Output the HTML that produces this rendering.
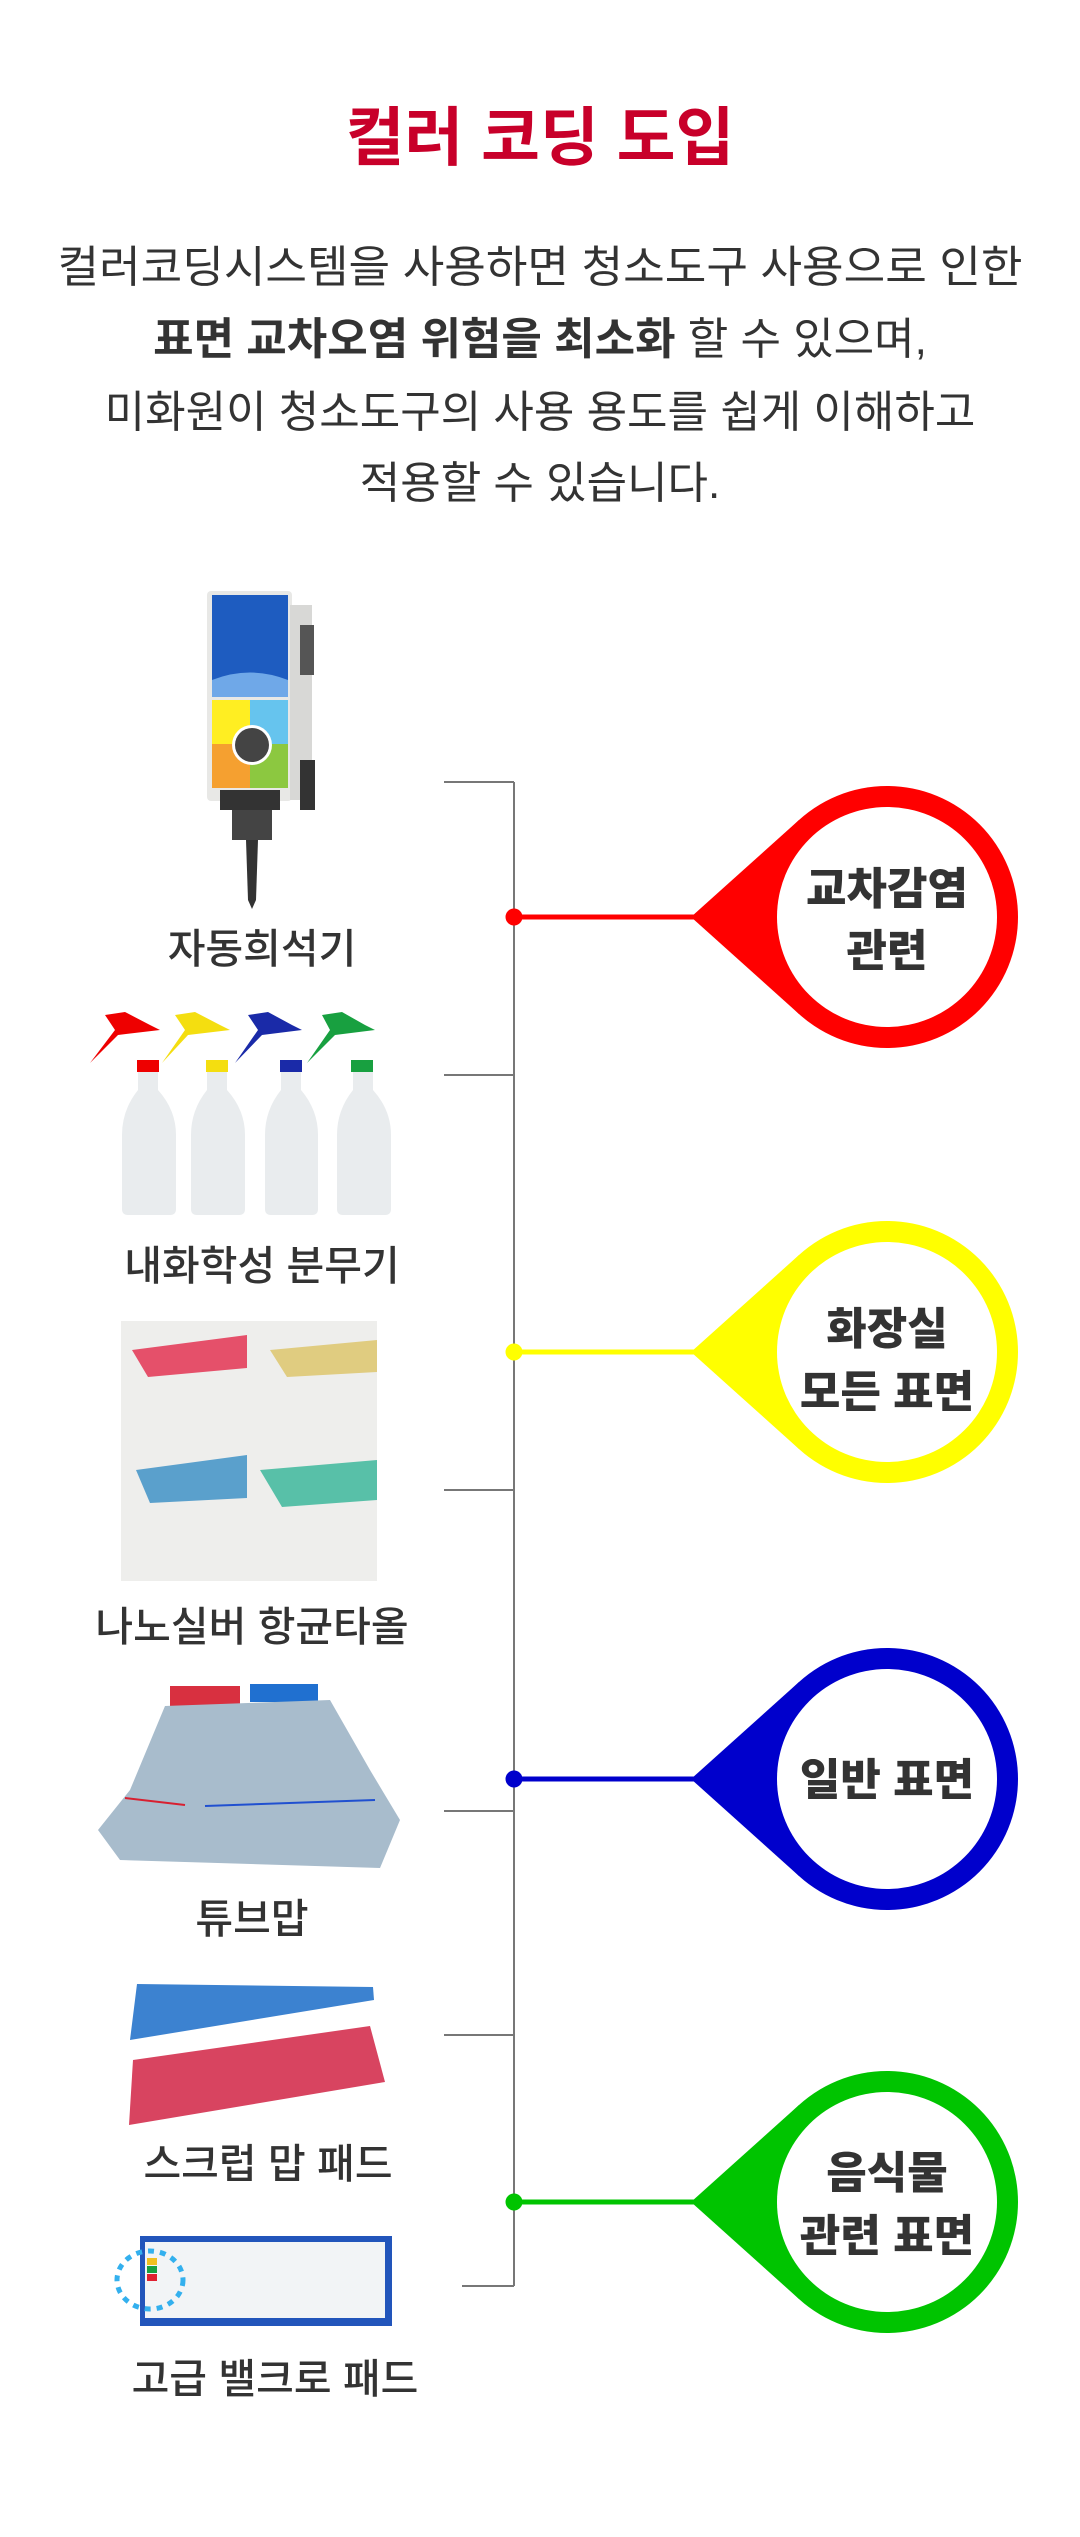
<!DOCTYPE html>
<html><head><meta charset="utf-8"><style>
html,body{margin:0;padding:0;background:#fff;}
svg{display:block;}
text{font-family:"Liberation Sans","Noto Sans CJK KR",sans-serif;}
</style></head><body>
<svg width="1080" height="2537" viewBox="0 0 1080 2537" xmlns="http://www.w3.org/2000/svg">
<rect width="1080" height="2537" fill="#fff"/>
<text x="540" y="160" text-anchor="middle" font-size="64" font-weight="bold" fill="#c8002a">컬러 코딩 도입</text>
<g font-size="44" fill="#333" text-anchor="middle">
<text x="540" y="282" textLength="965" lengthAdjust="spacingAndGlyphs">컬러코딩시스템을 사용하면 청소도구 사용으로 인한</text>
<text x="540" y="354"><tspan font-weight="bold">표면 교차오염 위험을 최소화</tspan> 할 수 있으며,</text>
<text x="540" y="427">미화원이 청소도구의 사용 용도를 쉽게 이해하고</text>
<text x="540" y="498">적용할 수 있습니다.</text>
</g>
<g stroke="#777" stroke-width="2" fill="none">
<line x1="514" y1="782" x2="514" y2="2286"/>
<line x1="444" y1="782" x2="514" y2="782"/>
<line x1="444" y1="1075" x2="514" y2="1075"/>
<line x1="444" y1="1490" x2="514" y2="1490"/>
<line x1="444" y1="1811" x2="514" y2="1811"/>
<line x1="444" y1="2035" x2="514" y2="2035"/>
<line x1="462" y1="2286" x2="514" y2="2286"/>
</g>
<g font-size="44" font-weight="900" fill="#333" text-anchor="middle">
<g>
<line x1="514" y1="917" x2="700" y2="917" stroke="#ff0000" stroke-width="5"/>
<circle cx="514" cy="917" r="8.5" fill="#ff0000"/>
<polygon points="691,917 799,820 799,1014" fill="#ff0000"/>
<circle cx="887" cy="917" r="131" fill="#ff0000"/>
<circle cx="887" cy="917" r="110" fill="#fff"/>
<text x="887" y="904">교차감염</text>
<text x="887" y="966">관련</text>
</g>
<g>
<line x1="514" y1="1352" x2="700" y2="1352" stroke="#ffff00" stroke-width="5"/>
<circle cx="514" cy="1352" r="8.5" fill="#ffff00"/>
<polygon points="691,1352 799,1255 799,1449" fill="#ffff00"/>
<circle cx="887" cy="1352" r="131" fill="#ffff00"/>
<circle cx="887" cy="1352" r="110" fill="#fff"/>
<text x="887" y="1344">화장실</text>
<text x="887" y="1407">모든 표면</text>
</g>
<g>
<line x1="514" y1="1779" x2="700" y2="1779" stroke="#0000cc" stroke-width="5"/>
<circle cx="514" cy="1779" r="8.5" fill="#0000cc"/>
<polygon points="691,1779 799,1682 799,1876" fill="#0000cc"/>
<circle cx="887" cy="1779" r="131" fill="#0000cc"/>
<circle cx="887" cy="1779" r="110" fill="#fff"/>
<text x="887" y="1795">일반 표면</text>
</g>
<g>
<line x1="514" y1="2202" x2="700" y2="2202" stroke="#00c400" stroke-width="5"/>
<circle cx="514" cy="2202" r="8.5" fill="#00c400"/>
<polygon points="691,2202 799,2105 799,2299" fill="#00c400"/>
<circle cx="887" cy="2202" r="131" fill="#00c400"/>
<circle cx="887" cy="2202" r="110" fill="#fff"/>
<text x="887" y="2188">음식물</text>
<text x="887" y="2251">관련 표면</text>
</g>
</g>
<g font-size="41" fill="#333" text-anchor="middle" font-weight="500">
<text x="262" y="963">자동희석기</text>
<text x="262" y="1280">내화학성 분무기</text>
<text x="252" y="1641">나노실버 항균타올</text>
<text x="252" y="1933">튜브맙</text>
<text x="268" y="2178">스크럽 맙 패드</text>
<text x="275" y="2393">고급 밸크로 패드</text>
</g>
<g>
<rect x="207" y="591" width="85" height="210" rx="4" fill="#e8e8e6"/>
<rect x="290" y="605" width="22" height="195" fill="#d8d8d6"/>
<rect x="300" y="625" width="14" height="50" fill="#555"/>
<rect x="212" y="595" width="76" height="102" fill="#1e5cc0"/>
<path d="M212 680 Q250 665 288 680 L288 697 L212 697Z" fill="#6fa8e8"/>
<rect x="212" y="700" width="38" height="44" fill="#ffee22"/>
<rect x="250" y="700" width="38" height="44" fill="#66c4ee"/>
<rect x="212" y="744" width="38" height="44" fill="#f5a030"/>
<rect x="250" y="744" width="38" height="44" fill="#8cc840"/>
<circle cx="252" cy="745" r="20" fill="#fff"/>
<circle cx="252" cy="745" r="17" fill="#444"/>
<rect x="300" y="760" width="15" height="50" fill="#333"/>
<rect x="220" y="790" width="60" height="20" fill="#333"/>
<rect x="232" y="810" width="40" height="30" fill="#444"/>
<path d="M246 840 L258 840 L256 900 L252 909 L248 900Z" fill="#333"/>
</g>
<g>
<g fill="#e9ecee">
<path d="M138 1072 h20 v18 q18 20 18 45 v74 q0 6 -6 6 h-42 q-6 0 -6 -6 v-74 q0 -25 16 -45z"/>
<path d="M207 1072 h20 v18 q18 20 18 45 v74 q0 6 -6 6 h-42 q-6 0 -6 -6 v-74 q0 -25 16 -45z"/>
<path d="M281 1072 h20 v18 q17 20 17 45 v74 q0 6 -6 6 h-41 q-6 0 -6 -6 v-74 q0 -25 16 -45z"/>
<path d="M353 1072 h20 v18 q18 20 18 45 v74 q0 6 -6 6 h-42 q-6 0 -6 -6 v-74 q0 -25 16 -45z"/>
</g>
<rect x="137" y="1060" width="22" height="12" fill="#e00"/>
<rect x="206" y="1060" width="22" height="12" fill="#f4de10"/>
<rect x="280" y="1060" width="22" height="12" fill="#1a2aa8"/>
<rect x="351" y="1060" width="22" height="12" fill="#18a040"/>
<path d="M90 1063 L115 1030 L105 1015 L125 1012 L150 1025 L160 1030 L118 1035Z" fill="#e00"/>
<path d="M162 1063 L185 1030 L175 1015 L195 1012 L220 1025 L230 1030 L188 1035Z" fill="#f4de10"/>
<path d="M235 1063 L258 1030 L248 1015 L268 1012 L292 1025 L302 1030 L262 1035Z" fill="#1a2aa8"/>
<path d="M307 1063 L330 1030 L322 1015 L342 1012 L365 1025 L375 1030 L335 1035Z" fill="#18a040"/>
</g>
<g>
<rect x="121" y="1321" width="256" height="260" fill="#eeeeec"/>
<polygon points="132,1350 247,1335 247,1368 148,1377" fill="#e5506a"/>
<polygon points="270,1350 377,1340 377,1372 287,1377" fill="#e0cc80"/>
<polygon points="136,1470 247,1455 247,1498 150,1503" fill="#5aa0cc"/>
<polygon points="260,1470 377,1460 377,1500 282,1507" fill="#58c0a8"/>
</g>
<g>
<rect x="170" y="1686" width="70" height="20" fill="#d83040"/>
<rect x="250" y="1684" width="68" height="18" fill="#2070d0"/>
<path d="M165 1706 L330 1700 L370 1770 L400 1820 L380 1868 L120 1860 L98 1830 L130 1790Z" fill="#a8bccc"/>
<line x1="125" y1="1798" x2="185" y2="1805" stroke="#d82030" stroke-width="2"/>
<line x1="205" y1="1806" x2="375" y2="1800" stroke="#2050d0" stroke-width="2"/>
</g>
<g>
<polygon points="137,1984 373,1987 374,2000 130,2040" fill="#3c82d0"/>
<polygon points="133,2060 370,2026 385,2082 129,2125" fill="#d84460"/>
</g>
<g>
<rect x="140" y="2236" width="252" height="90" fill="#2255bb"/>
<rect x="145" y="2242" width="240" height="76" fill="#f2f4f6"/>
<rect x="147" y="2258" width="10" height="7" fill="#f0c020"/>
<rect x="147" y="2266" width="10" height="7" fill="#18a040"/>
<rect x="147" y="2274" width="10" height="7" fill="#e02030"/>
<ellipse cx="150" cy="2280" rx="33" ry="29" fill="none" stroke="#33b0ee" stroke-width="5" stroke-dasharray="6 6"/>
</g>
</svg>
</body></html>
